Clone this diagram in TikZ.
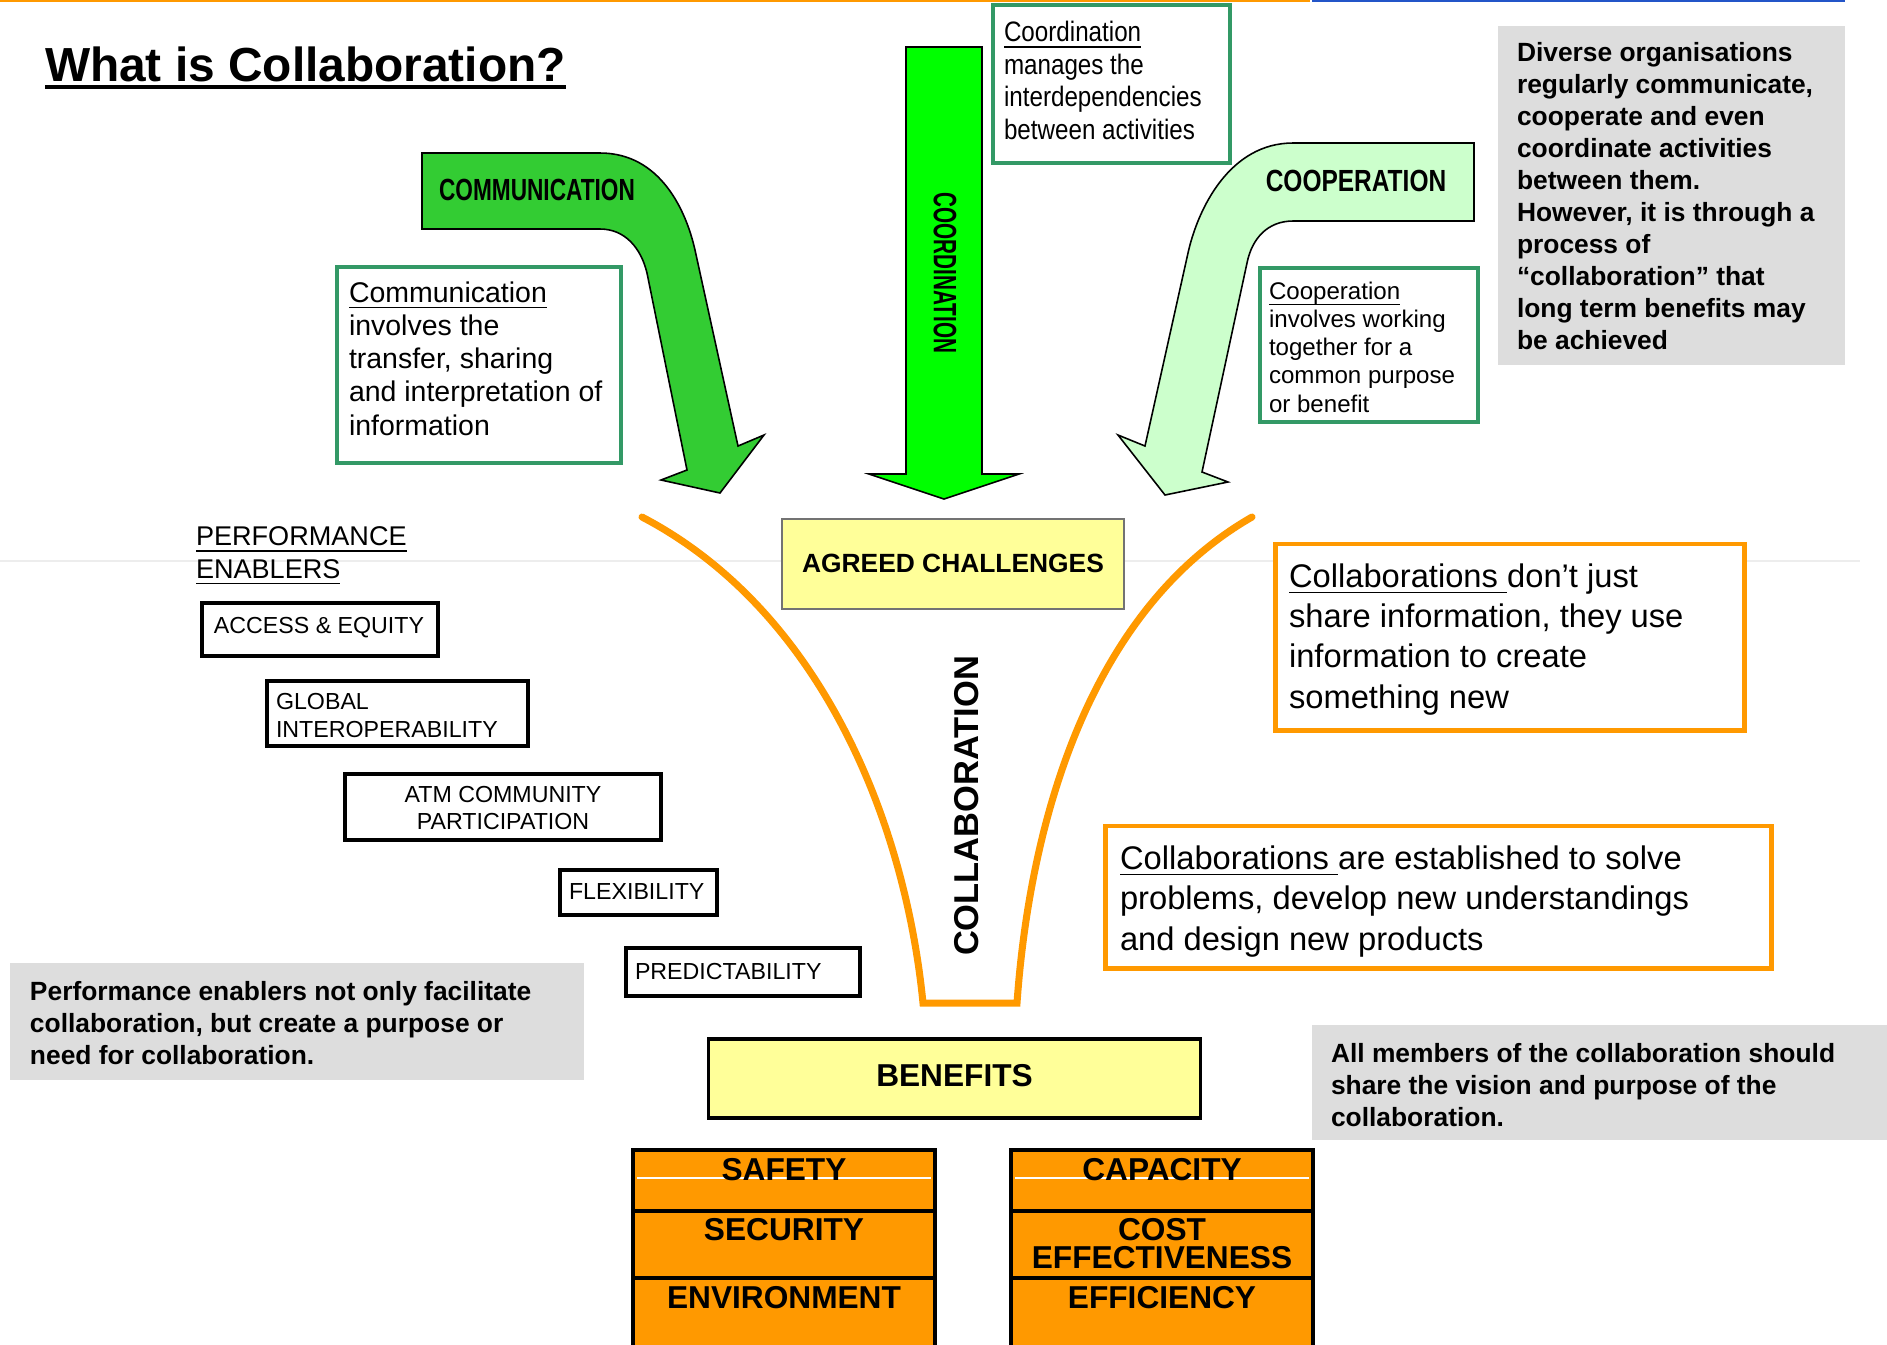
\documentclass[tikz,border=0pt]{standalone}
\usepackage{fontspec}
\setmainfont{Liberation Sans}
\newfontfamily\commnarrow[FakeStretch=0.74]{Liberation Sans}
\newfontfamily\coopnarrow[FakeStretch=0.80]{Liberation Sans}
\newfontfamily\coordnarrow[FakeStretch=0.64]{Liberation Sans}
\newfontfamily\boxnarrow[FakeStretch=0.86]{Liberation Sans}

\definecolor{commgreen}{RGB}{51,204,51}
\definecolor{coordgreen}{RGB}{0,255,0}
\definecolor{coopgreen}{RGB}{204,255,204}
\definecolor{framegreen}{RGB}{51,153,102}
\definecolor{brightorange}{RGB}{255,153,0}
\definecolor{paleyellow}{RGB}{255,255,153}
\definecolor{notegray}{RGB}{221,221,221}
\definecolor{topblue}{RGB}{35,85,200}

% underline drawn just under the baseline, through any descenders
\newcommand\baseul[1]{\underline{\smash{#1}}}

% multi-line text nodes are placed by the baseline of their last line
\tikzset{
  txt/.style={anchor=base west, align=left, inner sep=0pt, outer sep=0pt},
  ctxt/.style={anchor=center, align=center, inner sep=0pt, outer sep=0pt},
  greenframe/.style={draw=framegreen, line width=1.3pt, fill=white, inner sep=0pt},
  orangeframe/.style={draw=brightorange, line width=1.4pt, fill=white, inner sep=0pt},
  notebox/.style={fill=notegray, draw=none, inner sep=0pt},
  enabler/.style={draw=black, line width=1.1pt, fill=white, inner sep=0pt},
  enablerfont/.style={font=\fontsize{6.6pt}{7.7pt}\selectfont},
  yellowbox/.style={fill=paleyellow, inner sep=0pt},
  stackrow/.style={draw=black, fill=brightorange, line width=1pt, inner sep=0pt,
                   minimum width=3.02cm},
  bigarrow/.style={draw=black, line width=0.45pt, line join=miter},
}

\begin{document}
\begin{tikzpicture}[x=0.01cm, y=-0.01cm]
\useasboundingbox (0,0) rectangle (1887,1344);

% thin rules
\draw[brightorange, line width=0.8pt] (0,1) -- (1310,1);
\draw[topblue, line width=0.8pt] (1312,1) -- (1845,1);
\draw[black!7, line width=0.3pt] (0,561) -- (1860,561);

% title
\node[txt, font=\bfseries\fontsize{13.6pt}{16pt}\selectfont] (title) at (45,81) {What is Collaboration?};
\draw[line width=1.1pt] ([shift={(0,6)}]title.base west) -- ([shift={(0,6)}]title.base east);

% ---------- the three feeding arrows ----------
\draw[bigarrow, fill=commgreen]
  (422,153) -- (600,153) .. controls (660,153) and (686,210) .. (695,250)
  -- (738,446) -- (764,435) -- (720,493) -- (661,480) -- (687,470)
  -- (647,273) .. controls (641,248) and (625,229) .. (600,229)
  -- (422,229) -- cycle;
\node[ctxt, font=\commnarrow\bfseries\fontsize{8.7pt}{10pt}\selectfont] (commlabel) at (537,190) {COMMUNICATION};

\draw[bigarrow, fill=coordgreen]
  (906,47) -- (982,47) -- (982,474) -- (1019,474) -- (944,499)
  -- (869,474) -- (906,474) -- cycle;
\node[ctxt, rotate=-90, font=\coordnarrow\bfseries\fontsize{9.2pt}{10pt}\selectfont] (coordlabel) at (945,273) {COORDINATION};

\draw[bigarrow, fill=coopgreen]
  (1474,143) -- (1293,143) .. controls (1230,143) and (1198,208) .. (1188,253)
  -- (1145,446) -- (1118,435) -- (1165,495) -- (1228,482) -- (1202,472)
  -- (1247,263) .. controls (1252,238) and (1268,221) .. (1293,221)
  -- (1474,221) -- cycle;
\node[ctxt, font=\coopnarrow\bfseries\fontsize{8.7pt}{10pt}\selectfont] (cooplabel) at (1356,181) {COOPERATION};

% ---------- definition boxes ----------
\node[greenframe, minimum width=2.37cm, minimum height=1.58cm] (coordbox) at (1111.5,84) {};
\node[txt, font=\boxnarrow\fontsize{8pt}{9.25pt}\selectfont] (coordtxt) at (1004,139.5)
  {\baseul{Coordination}\\manages the\\interdependencies\\between activities};

\node[greenframe, minimum width=2.84cm, minimum height=1.96cm] (commbox) at (479,365) {};
\node[txt, font=\fontsize{8.1pt}{9.4pt}\selectfont] (commtxt) at (349,435)
  {\baseul{Communication}\\involves the\\transfer, sharing\\and interpretation of\\information};

\node[greenframe, minimum width=2.18cm, minimum height=1.54cm] (coopbox) at (1369,345) {};
\node[txt, font=\fontsize{6.85pt}{8pt}\selectfont] (cooptxt) at (1269,412)
  {\baseul{Cooperation}\\involves working\\together for a\\common purpose\\or benefit};

% ---------- grey notes ----------
\node[notebox, minimum width=3.47cm, minimum height=3.39cm] (noteright) at (1671.5,195.5) {};
\node[txt, font=\bfseries\fontsize{7.5pt}{9.07pt}\selectfont] (noterighttxt) at (1517,349)
  {Diverse organisations\\regularly communicate,\\cooperate and even\\coordinate activities\\between them.\\However, it is through a\\process of\\“collaboration” that\\long term benefits may\\be achieved};

\node[notebox, minimum width=5.74cm, minimum height=1.17cm] (noteleft) at (297,1021.5) {};
\node[txt, font=\bfseries\fontsize{7.5pt}{9.07pt}\selectfont] (notelefttxt) at (30,1064)
  {Performance enablers not only facilitate\\collaboration, but create a purpose or\\need for collaboration.};

\node[notebox, minimum width=5.75cm, minimum height=1.15cm] (notebottom) at (1599.5,1082.5) {};
\node[txt, font=\bfseries\fontsize{7.5pt}{9.07pt}\selectfont] (notebottomtxt) at (1331,1126)
  {All members of the collaboration should\\share the vision and purpose of the\\collaboration.};

% ---------- funnel ----------
\node[yellowbox, draw=black!55, line width=0.5pt, minimum width=3.42cm, minimum height=0.90cm] (agreed) at (953,564) {};
\node[ctxt, font=\bfseries\fontsize{7.5pt}{9pt}\selectfont] (agreedtxt) at (953,563) {AGREED CHALLENGES};

\draw[brightorange, line width=2pt, line cap=round, line join=miter]
  (642,517) .. controls (820,610) and (905,820) .. (923,1003)
  -- (1017,1003) .. controls (1030,820) and (1090,610) .. (1252,517);
\node[ctxt, rotate=90, font=\bfseries\fontsize{9.8pt}{11pt}\selectfont] (collablabel) at (967,806) {COLLABORATION};

% ---------- orange statements ----------
\node[orangeframe, minimum width=4.68cm, minimum height=1.86cm] (collabone) at (1510,637) {};
\node[txt, font=\fontsize{9.3pt}{11.4pt}\selectfont] (collabonetxt) at (1289,708)
  {\baseul{Collaborations\ }don’t just\\share information, they use\\information to create\\something new};

\node[orangeframe, minimum width=6.65cm, minimum height=1.42cm] (collabtwo) at (1438.5,897) {};
\node[txt, font=\fontsize{9.3pt}{11.4pt}\selectfont] (collabtwotxt) at (1120,950)
  {\baseul{Collaborations\ }are established to solve\\problems, develop new understandings\\and design new products};

% ---------- performance enablers ----------
\node[txt, font=\fontsize{7.7pt}{9.25pt}\selectfont] (enablerhead) at (196,578.5)
  {\baseul{PERFORMANCE}\\\baseul{ENABLERS}};

\node[enabler, minimum width=2.36cm, minimum height=0.53cm] (access) at (320,629.5) {};
\node[ctxt, enablerfont] (accesstxt) at (319,628) {ACCESS \& EQUITY};

\node[enabler, minimum width=2.61cm, minimum height=0.65cm] (global) at (397.5,713.5) {};
\node[txt, enablerfont] (globaltxt) at (276,737) {GLOBAL\\INTEROPERABILITY};

\node[enabler, minimum width=3.16cm, minimum height=0.66cm] (atm) at (503,807) {};
\node[ctxt, enablerfont] (atmtxt) at (503,808) {ATM COMMUNITY\\PARTICIPATION};

\node[enabler, minimum width=1.57cm, minimum height=0.45cm] (flex) at (638.5,892.5) {};
\node[txt, enablerfont] (flextxt) at (569,899) {FLEXIBILITY};

\node[enabler, minimum width=2.34cm, minimum height=0.48cm] (pred) at (743,972) {};
\node[txt, enablerfont] (predtxt) at (635,979) {PREDICTABILITY};

% ---------- benefits ----------
\node[yellowbox, draw=black, line width=0.9pt, minimum width=4.91cm, minimum height=0.79cm] (benefits) at (954.5,1078.5) {};
\node[ctxt, font=\bfseries\fontsize{9pt}{10pt}\selectfont] (benefitstxt) at (954.5,1076) {BENEFITS};

\node[stackrow, minimum height=0.61cm] (safety) at (784,1180.5) {};
\node[stackrow, minimum height=0.67cm] (security) at (784,1244.5) {};
\node[stackrow, minimum height=0.82cm] (environment) at (784,1319) {};
\node[stackrow, minimum height=0.61cm] (capacity) at (1162,1180.5) {};
\node[stackrow, minimum height=0.67cm] (cost) at (1162,1244.5) {};
\node[stackrow, minimum height=0.82cm] (efficiency) at (1162,1319) {};
\draw[white, line width=0.4pt] (637,1178) -- (931,1178);
\draw[white, line width=0.4pt] (1015,1178) -- (1309,1178);

\tikzset{stacktxt/.style={ctxt, font=\bfseries\fontsize{9pt}{8pt}\selectfont}}
\node[stacktxt] (safetytxt) at (784,1170) {SAFETY};
\node[stacktxt] (securitytxt) at (784,1230) {SECURITY};
\node[stacktxt] (environmenttxt) at (784,1298) {ENVIRONMENT};
\node[stacktxt] (capacitytxt) at (1162,1170) {CAPACITY};
\node[stacktxt] (costtxt) at (1162,1244) {COST\\EFFECTIVENESS};
\node[stacktxt] (efficiencytxt) at (1162,1298) {EFFICIENCY};
\end{tikzpicture}
\end{document}
